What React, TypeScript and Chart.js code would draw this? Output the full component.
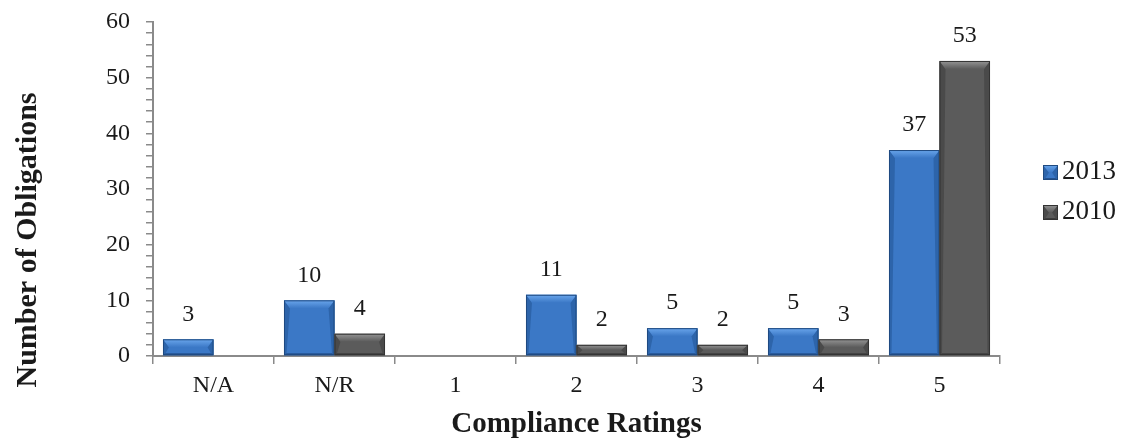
import React, { useEffect, useRef } from "react";
import { Chart, registerables } from "chart.js";

Chart.register(...registerables);

const categories = ["N/A", "N/R", "1", "2", "3", "4", "5"];
const series2013 = [3, 10, null, 11, 5, 5, 37];
const series2010 = [null, 4, null, 2, 2, 3, 53];
const seriesLabels = ["2013", "2010"];
const yTicksMax = 60;
const yTitle = "Number of Obligations";
const xTitle = "Compliance Ratings";

const FONT = "'Liberation Serif', 'Times New Roman', serif";
const TEXT = "#1a1a1a";
const AXIS = "#8a8a8a";

const palettes = [
  { body: "#3b78c6", top: "#6aa6ec", side: "#2d64aa", bottom: "#24528f", edge: "#1f4a80" },
  { body: "#5b5b5b", top: "#959595", side: "#4a4a4a", bottom: "#3c3c3c", edge: "#333333" },
];

function drawBevel(ctx: CanvasRenderingContext2D, left: number, top: number, right: number, bottom: number, p: any) {
  const h = bottom - top;
  const w = right - left;
  if (h <= 0) return;
  const t = Math.min(8, h / 2);
  const s = Math.min(6, w / 2);
  const sb = Math.min(2, h / 4);
  ctx.save();
  ctx.fillStyle = p.body;
  ctx.fillRect(left, top, w, h);
  ctx.fillStyle = p.side;
  ctx.beginPath();
  ctx.moveTo(left, top);
  ctx.lineTo(left + s, top + t);
  ctx.lineTo(left + 2.5, bottom - sb);
  ctx.lineTo(left, bottom);
  ctx.closePath();
  ctx.fill();
  ctx.beginPath();
  ctx.moveTo(right, top);
  ctx.lineTo(right - s, top + t);
  ctx.lineTo(right - 2.5, bottom - sb);
  ctx.lineTo(right, bottom);
  ctx.closePath();
  ctx.fill();
  ctx.fillStyle = p.bottom;
  ctx.beginPath();
  ctx.moveTo(left, bottom);
  ctx.lineTo(left + 2.5, bottom - sb);
  ctx.lineTo(right - 2.5, bottom - sb);
  ctx.lineTo(right, bottom);
  ctx.closePath();
  ctx.fill();
  const g = ctx.createLinearGradient(0, top, 0, top + t);
  g.addColorStop(0, p.top);
  g.addColorStop(1, p.body);
  ctx.fillStyle = g;
  ctx.beginPath();
  ctx.moveTo(left, top);
  ctx.lineTo(right, top);
  ctx.lineTo(right - s, top + t);
  ctx.lineTo(left + s, top + t);
  ctx.closePath();
  ctx.fill();
  ctx.strokeStyle = p.edge;
  ctx.lineWidth = 1;
  ctx.strokeRect(left + 0.5, top + 0.5, w - 1, h - 1);
  ctx.restore();
}

const bevelPlugin = {
  id: "bevelBars",
  afterDatasetsDraw(chart: any) {
    const ctx = chart.ctx;
    chart.data.datasets.forEach((ds: any, di: number) => {
      const meta = chart.getDatasetMeta(di);
      meta.data.forEach((bar: any, i: number) => {
        const v = ds.data[i];
        if (v === null || v === undefined) return;
        const { x, y, base, width } = bar.getProps(["x", "y", "base", "width"], true);
        drawBevel(ctx, x - width / 2, y, x + width / 2, base, palettes[di]);
        ctx.save();
        ctx.fillStyle = TEXT;
        ctx.font = `24px ${FONT}`;
        ctx.textAlign = "center";
        ctx.textBaseline = "middle";
        ctx.fillText(String(v), x, y - 25);
        ctx.restore();
      });
    });
  },
};

const decorPlugin = {
  id: "decor",
  afterDraw(chart: any) {
    const ctx = chart.ctx;
    const area = chart.chartArea;
    ctx.save();
    ctx.fillStyle = TEXT;
    ctx.font = `bold 30px ${FONT}`;
    ctx.textAlign = "center";
    ctx.textBaseline = "middle";
    ctx.translate(28, 240);
    ctx.rotate(-Math.PI / 2);
    ctx.fillText(yTitle, 0, 0);
    ctx.restore();
    ctx.save();
    ctx.fillStyle = TEXT;
    ctx.font = `bold 29px ${FONT}`;
    ctx.textAlign = "center";
    ctx.textBaseline = "middle";
    ctx.fillText(xTitle, (area.left + area.right) / 2, 425);
    ctx.restore();
    chart.data.datasets.forEach((ds: any, di: number) => {
      const cy = 172 + di * 40;
      drawBevel(ctx, 1043, cy - 7, 1058, cy + 8, { ...palettes[di] });
      ctx.save();
      ctx.fillStyle = TEXT;
      ctx.font = `27px ${FONT}`;
      ctx.textAlign = "left";
      ctx.textBaseline = "middle";
      ctx.fillText(ds.label, 1062, cy);
      ctx.restore();
    });
  },
};

export default function App() {
  const ref = useRef<HTMLCanvasElement | null>(null);
  useEffect(() => {
    document.body.style.margin = "0";
    if (!ref.current) return;
    const chart = new Chart(ref.current, {
      type: "bar",
      data: {
        labels: categories,
        datasets: [
          { label: seriesLabels[0], data: series2013 as any, backgroundColor: "rgba(0,0,0,0)", borderWidth: 0 },
          { label: seriesLabels[1], data: series2010 as any, backgroundColor: "rgba(0,0,0,0)", borderWidth: 0 },
        ],
      },
      options: {
        animation: false,
        responsive: true,
        maintainAspectRatio: false,
        layout: { padding: { left: 0, right: 126, top: 22, bottom: 0 } },
        datasets: { bar: { categoryPercentage: 0.835, barPercentage: 1 } },
        plugins: { legend: { display: false }, tooltip: { enabled: false } },
        scales: {
          x: {
            offset: true,
            grid: { offset: true, drawOnChartArea: false, drawTicks: true, tickLength: 8, color: AXIS, lineWidth: 1.5 },
            border: { color: AXIS, width: 2 },
            ticks: { color: TEXT, font: { family: FONT, size: 24 }, padding: 7 },
            afterFit: (s: any) => { s.height = 87; s.paddingLeft = 0; s.paddingRight = 0; },
          },
          y: {
            min: 0,
            max: yTicksMax,
            grid: { drawOnChartArea: false, drawTicks: true, tickLength: 7, color: AXIS, lineWidth: 1.5 },
            border: { color: AXIS, width: 2 },
            ticks: {
              stepSize: 2,
              autoSkip: false,
              color: TEXT,
              font: { family: FONT, size: 24 },
              padding: 16,
              callback: (v: any) => (Number(v) % 10 === 0 ? String(v) : ""),
            },
            afterFit: (s: any) => { s.width = 153; s.paddingTop = 0; s.paddingBottom = 0; },
          },
        },
      },
      plugins: [bevelPlugin, decorPlugin],
    });
    return () => chart.destroy();
  }, []);
  return (
    <div style={{ width: 1126, height: 443, position: "relative" }}>
      <canvas ref={ref} />
    </div>
  );
}
